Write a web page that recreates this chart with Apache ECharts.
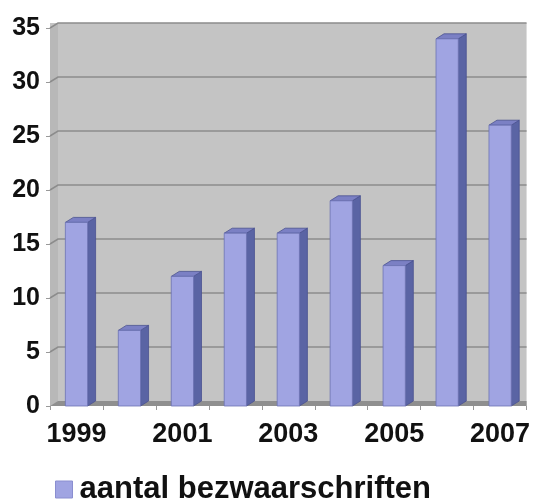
<!DOCTYPE html>
<html><head><meta charset="utf-8">
<script src="https://cdn.jsdelivr.net/npm/echarts@6/dist/echarts.min.js"></script>
<style>html,body{margin:0;padding:0;background:#fff}#c{width:533px;height:503px}</style>
</head><body><div id="c"></div>
<script>
var categories = ['1999','2000','2001','2002','2003','2004','2005','2006','2007'];
var values = [17, 7, 12, 16, 16, 19, 13, 34, 26];
var seriesName = 'aantal bezwaarschriften';
var yTicks = [0, 5, 10, 15, 20, 25, 30, 35];

var DX = 8, DY = 5;
var chart = echarts.init(document.getElementById('c'), null, {renderer: 'canvas'});

function renderWall(params, api) {
  var cs = params.coordSys;
  var x0 = cs.x, x1 = cs.x + cs.width, yb = cs.y + cs.height, yt = cs.y;
  var children = [];
  children.push({type: 'rect', shape: {x: x0, y: yt - DY, width: x1 - x0, height: yb - yt + DY},
    style: {fill: '#c4c4c4'}});
  children.push({type: 'polygon', shape: {points: [[x0, yt], [x0 + DX, yt - DY], [x0 + DX, yb - DY], [x0, yb]]},
    style: {fill: '#b8b8b8'}});
  for (var i = 1; i < yTicks.length; i++) {
    var p = api.coord([0, yTicks[i]]);
    var y = p[1];
    children.push({type: 'polyline', shape: {points: [[x0, y], [x0 + DX, y - DY], [x1, y - DY]]},
      style: {stroke: '#8c8c8c', lineWidth: 1.5, fill: null}});
  }
  children.push({type: 'polygon', shape: {points: [[x0, yb], [x0 + DX, yb - DY], [x1, yb - DY], [x1, yb]]},
    style: {fill: '#8f8f8f'}});
  return {type: 'group', children: children, silent: true};
}

function renderBar(params, api) {
  var c = api.value(0), v = api.value(1);
  var top = api.coord([c, v]);
  var base = api.coord([c, 0]);
  var band = api.size([1, 0])[0];
  var w = band * 0.42;
  var xl = top[0] - w / 2, xr = top[0] + w / 2;
  var yt = top[1], yb = base[1];
  return {type: 'group', children: [
    {type: 'polygon', shape: {points: [[xr, yt], [xr + DX, yt - DY], [xr + DX, yb - DY], [xr, yb]]},
      style: {fill: '#5a64a4', stroke: '#4a5290', lineWidth: 0.8}},
    {type: 'polygon', shape: {points: [[xl, yt], [xl + DX, yt - DY], [xr + DX, yt - DY], [xr, yt]]},
      style: {fill: '#7b80c4', stroke: '#4a5290', lineWidth: 0.8}},
    {type: 'rect', shape: {x: xl, y: yt, width: w, height: yb - yt},
      style: {fill: '#a0a4e2', stroke: '#6c72b4', lineWidth: 0.8}}
  ]};
}

chart.setOption({
  animation: false,
  backgroundColor: '#ffffff',
  grid: {left: 50, right: 4, top: 28, bottom: 97},
  legend: {
    data: [{name: seriesName, icon: 'rect', itemStyle: {color: '#a0a4e2', borderColor: '#8a8ed0', borderWidth: 1}}],
    left: 50, top: 469, itemWidth: 17, itemHeight: 17, itemGap: 8,
    textStyle: {fontFamily: 'Liberation Sans', fontWeight: 'bold', fontSize: 31, color: '#111', padding: [0, 0, 0, 2]}
  },
  xAxis: {
    type: 'category', data: categories,
    axisLine: {show: false}, axisTick: {show: true, interval: 0, alignWithLabel: false, lineStyle: {color: '#999'}, length: 4},
    axisLabel: {interval: 1, fontFamily: 'Liberation Sans', fontWeight: 'bold', fontSize: 27, color: '#111', margin: 15},
    splitLine: {show: false}
  },
  yAxis: {
    type: 'value', min: 0, max: 35, interval: 5,
    axisLine: {show: true, lineStyle: {color: '#999'}}, axisTick: {show: true, length: 4, lineStyle: {color: '#999'}},
    axisLabel: {fontFamily: 'Liberation Sans', fontWeight: 'bold', fontSize: 25, color: '#111', margin: 10},
    splitLine: {show: false}
  },
  series: [
    {type: 'custom', name: 'wall', data: [[0, 0]], renderItem: renderWall, z: 1, silent: true, tooltip: {show: false}},
    {type: 'custom', name: seriesName, data: values.map(function (v, i) { return [i, v]; }),
      encode: {x: 0, y: 1}, renderItem: renderBar, z: 2, itemStyle: {color: '#a0a4e2'}}
  ]
});
</script></body></html>
